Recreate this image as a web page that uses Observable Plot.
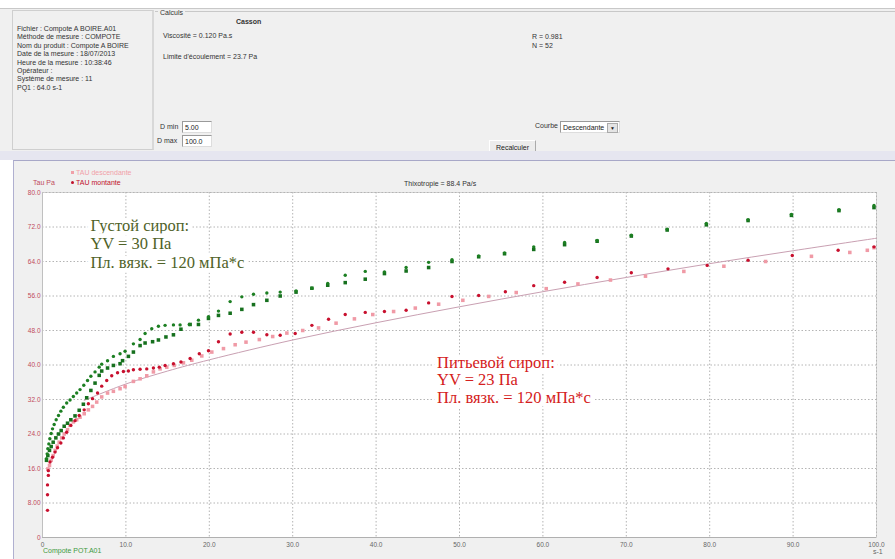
<!DOCTYPE html>
<html><head><meta charset="utf-8">
<script src="https://cdn.jsdelivr.net/npm/d3@7"></script>
<script src="https://cdn.jsdelivr.net/npm/@observablehq/plot@0.6"></script>
<style>
html,body{margin:0;padding:0;background:#fff;}
body{width:895px;height:559px;position:relative;overflow:hidden;font-family:"Liberation Sans",Arial,sans-serif;}
.t{position:absolute;font-size:7px;line-height:8px;color:#333;white-space:nowrap;}
#top{position:absolute;left:0;top:8px;width:895px;height:143px;background:#f0f0f0;border-top:1px solid #c8c8c8;}
#info{position:absolute;left:12px;top:10px;width:139px;height:138px;border:1px solid #cfcfcf;border-right:2px solid #d8d8d8;}
#calc{position:absolute;left:155px;top:11px;width:740px;height:1px;background:#c8c8c8;}
.inp{position:absolute;background:#fff;border:1px solid #9a9a9a;border-right-color:#ddd;border-bottom-color:#ddd;font-size:7px;line-height:11px;padding-left:2px;box-sizing:border-box;color:#222;}
#btn{position:absolute;left:489px;top:140px;width:47px;height:15px;background:#ececec;border:1px solid #aaa;border-top-color:#fff;border-left-color:#fff;box-sizing:border-box;font-size:7px;line-height:13px;text-align:center;color:#222;}
#band{position:absolute;left:0;top:151px;width:895px;height:9px;background:#e6e6f0;}
#panel{position:absolute;left:13px;top:160px;width:882px;height:399px;background:#f0f0f0;border-top:1px solid #a8a8c8;border-left:1px solid #b0b0d0;}
#chart{position:absolute;left:14px;top:161px;}
</style></head>
<body>
<div id="top"></div>
<div id="info"></div>
<div id="calc"></div>
<div class="t" style="left:158px;top:9px;background:#f0f0f0;padding:0 2px;">Calculs</div>
<div class="t" style="left:236px;top:18px;font-weight:bold;">Casson</div>
<div class="t" style="left:163px;top:32px;">Viscosité = 0.120 Pa.s</div>
<div class="t" style="left:163px;top:53px;">Limite d'écoulement = 23.7 Pa</div>
<div class="t" style="left:532px;top:33px;">R = 0.981</div>
<div class="t" style="left:532px;top:42px;">N = 52</div>
<div class="t" style="left:17px;top:25px;line-height:8.4px;">Fichier : Compote A BOIRE.A01<br>Méthode de mesure : COMPOTE<br>Nom du produit : Compote A BOIRE<br>Date de la mesure : 18/07/2013<br>Heure de la mesure : 10:38:46<br>Opérateur :<br>Système de mesure : 11<br>PQ1 : 64.0 s-1</div>
<div class="t" style="left:160px;top:123px;">D min</div>
<div class="inp" style="left:182px;top:121px;width:30px;height:12px;">5.00</div>
<div class="t" style="left:157px;top:137px;">D max</div>
<div class="inp" style="left:182px;top:135px;width:30px;height:12px;">100.0</div>
<div class="t" style="left:535px;top:122px;">Courbe :</div>
<div class="inp" style="left:560px;top:121px;width:60px;height:12px;">Descendante<span style="position:absolute;right:1px;top:1px;width:9px;height:8px;background:#e4e4e4;border:1px solid #aaa;font-size:5px;line-height:8px;text-align:center;">▼</span></div>
<div id="btn">Recalculer</div>
<div id="band"></div>
<div id="panel"></div>
<div id="chart"></div>
<div class="t" style="left:71px;top:169px;color:#f0a0a8;"><span style="display:inline-block;width:3px;height:3px;background:#f0a0a8;margin-right:2px;vertical-align:1px;"></span>TAU descendante</div>
<div class="t" style="left:71px;top:179px;color:#c0102a;"><span style="display:inline-block;width:3px;height:3px;border-radius:2px;background:#c0102a;margin-right:2px;vertical-align:1px;"></span>TAU montante</div>
<div class="t" style="left:33px;top:179px;color:#c04a5a;">Tau Pa</div>
<div class="t" style="left:404px;top:180px;color:#333;">Thixotropie = 88.4 Pa/s</div>
<div class="t" style="left:43px;top:547px;color:#3e9a3e;">Compote POT.A01</div>
<div class="t" style="left:873px;top:548px;color:#666;">s-1</div>
<script>
// Axis ticks and labels
const xTicks = [0, 10, 20, 30, 40, 50, 60, 70, 80, 90, 100];
const xTickLabels = ["0", "10.0", "20.0", "30.0", "40.0", "50.0", "60.0", "70.0", "80.0", "90.0", "100.0"];
const yTicks = [0, 8, 16, 24, 32, 40, 48, 56, 64, 72, 80];
const yTickLabels = ["0", "8.00", "16.0", "24.0", "32.0", "40.0", "48.0", "56.0", "64.0", "72.0", "80.0"];

// Питьевой сироп — TAU montante (shear rate s-1, Tau Pa)
const drinkUp = [[0.6,6.3],[0.6,9.9],[0.6,12.2],[0.7,14.4],[0.7,15.5],[0.9,17.5],[1.2,18.6],[1.5,19.8],[1.8,20.8],[2.2,21.9],[2.5,23.1],[2.9,24.4],[3.4,26.0],[3.9,27.1],[4.4,28.3],[5.0,29.6],[5.5,31.0],[6.0,32.2],[6.6,33.5],[7.1,35.1],[7.7,36.4],[8.3,37.5],[9.0,38.2],[9.7,38.5],[10.3,38.6],[10.9,38.9],[11.7,39.0],[12.5,39.1],[13.3,39.3],[14.0,39.5],[14.7,39.9],[15.7,40.3],[16.6,40.7],[17.7,41.5],[18.8,42.6],[19.9,43.3],[21.1,45.4],[22.5,47.2],[23.9,47.6],[25.3,47.6],[26.9,47.0],[28.5,46.9],[30.3,47.3],[32.3,49.2],[34.3,50.6],[36.3,51.7],[38.7,52.2],[41.0,52.4],[43.6,52.7],[46.3,54.4],[49.1,55.9],[52.3,56.1],[55.5,57.0],[58.9,58.4],[62.6,59.2],[66.5,60.3],[70.6,61.4],[75.0,62.3],[79.7,63.1],[84.6,64.3],[89.9,65.4],[95.4,66.6],[99.7,67.4]];
// Питьевой сироп — TAU descendante
const drinkDown = [[0.64,15.9],[0.84,16.7],[1.04,17.9],[1.28,19.0],[1.52,20.2],[1.76,21.2],[2.0,22.1],[2.3,23.1],[2.6,24.0],[3.0,25.0],[3.3,26.0],[3.7,26.8],[4.1,27.3],[4.5,27.9],[5.0,28.7],[5.5,29.6],[6.0,30.4],[6.5,31.4],[7.1,32.6],[7.8,33.5],[8.5,33.9],[9.3,34.5],[9.9,35.0],[10.9,36.2],[11.7,36.8],[12.5,37.5],[13.3,38.4],[14.1,39.1],[14.9,39.5],[15.8,39.9],[16.9,40.5],[17.9,41.1],[19.1,42.1],[20.3,43.0],[21.7,43.8],[23.1,44.7],[24.4,45.3],[26.0,45.9],[27.6,46.6],[29.3,47.4],[31.2,48.0],[33.1,48.6],[35.2,49.7],[37.4,50.7],[39.6,51.7],[42.1,52.4],[44.7,53.2],[47.5,54.1],[50.4,55.0],[53.5,55.9],[56.8,56.8],[60.4,57.7],[64.2,58.8],[68.1,59.7],[72.3,60.6],[76.9,61.7],[81.7,62.9],[86.7,64.0],[92.2,65.2],[96.8,66.1],[98.9,66.6],[99.7,67.2]];
// Густой сироп — montante
const thickUp = [[0.48,18.3],[0.56,19.4],[0.64,20.6],[0.76,21.7],[0.88,22.9],[1.04,24.1],[1.2,25.2],[1.4,26.2],[1.64,27.3],[1.92,28.3],[2.2,29.3],[2.5,30.2],[2.9,31.2],[3.3,31.9],[3.7,32.7],[4.1,33.5],[4.5,34.3],[4.95,35.3],[5.4,36.4],[5.8,37.4],[6.3,38.4],[6.8,39.5],[7.1,40.2],[7.8,41.0],[8.5,42.0],[9.3,42.6],[9.9,43.2],[10.9,44.9],[11.7,45.9],[12.3,47.3],[13.1,48.4],[13.9,49.0],[14.7,49.2],[15.7,49.3],[16.5,49.3],[17.6,49.4],[18.7,50.4],[19.9,51.2],[21.1,52.5],[22.5,54.7],[23.9,55.8],[25.3,56.4],[26.9,56.7],[28.5,56.9],[30.4,57.2],[32.3,57.8],[34.2,58.9],[36.3,60.8],[38.7,61.7],[41.0,61.6],[43.6,62.6],[46.3,63.8],[49.1,64.4],[52.3,65.3],[55.4,66.0],[58.9,67.4],[62.6,68.4],[66.5,68.9],[70.6,70.1],[74.9,71.5],[79.6,72.8],[84.6,73.7],[89.8,74.9],[95.5,76.0],[99.7,77.0]];
// Густой сироп — descendante
const thickDown = [[0.48,17.9],[0.64,19.0],[0.84,20.2],[1.04,21.1],[1.28,22.1],[1.6,23.1],[1.92,24.0],[2.24,24.8],[2.6,25.8],[3.0,26.5],[3.4,27.3],[3.9,28.2],[4.4,29.5],[4.9,30.9],[5.3,32.4],[5.8,34.1],[6.3,35.8],[6.8,37.6],[7.1,38.6],[7.8,39.3],[8.5,39.9],[9.3,40.3],[9.6,41.0],[10.3,42.0],[10.9,43.0],[11.7,44.5],[12.3,45.1],[13.2,45.4],[13.9,45.8],[14.8,46.5],[15.7,47.0],[16.6,48.3],[17.7,49.4],[18.7,49.4],[19.9,50.8],[21.1,51.5],[22.5,52.0],[23.9,52.9],[25.3,54.0],[26.9,55.0],[28.5,56.0],[30.4,56.9],[32.3,57.8],[34.2,58.5],[36.3,59.1],[38.7,59.9],[41.0,61.2],[43.6,61.8],[46.3,62.6],[49.1,64.0],[52.3,65.1],[55.4,65.8],[58.9,66.8],[62.6,67.9],[66.5,68.7],[70.6,69.9],[74.9,71.3],[79.6,72.5],[84.6,73.5],[89.8,74.7],[95.5,75.8],[99.7,76.5]];
// Casson fit curve
const fitX = [5, 10, 15, 20, 30, 40, 50, 60, 70, 80, 90, 100];
const fitY = [31.8, 35.6, 38.6, 41.2, 45.8, 49.8, 53.5, 57.0, 60.3, 63.5, 66.5, 69.4];

// Annotation text lines
const thickNote = ["Густой сироп:", "YV = 30 Па", "Пл. вязк. = 120 мПа*с"];
const thickNoteX = [5.75, 5.75, 5.75];
const thickNoteY = [71.0, 66.8, 62.6];
const drinkNote = ["Питьевой сироп:", "YV = 23 Па", "Пл. вязк. = 120 мПа*с"];
const drinkNoteX = [47.3, 47.3, 47.3];
const drinkNoteY = [39.4, 35.3, 31.1];

const fit = fitX.map((x, i) => ({x, y: fitY[i]}));
const notes = thickNote.map((t, i) => ({t, x: thickNoteX[i], y: thickNoteY[i], c: "#4f6228"}))
  .concat(drinkNote.map((t, i) => ({t, x: drinkNoteX[i], y: drinkNoteY[i], c: "#d42020"})));

const chart = Plot.plot({
  width: 881,
  height: 398,
  marginLeft: 28,
  marginRight: 19,
  marginTop: 31,
  marginBottom: 22,
  style: {background: "transparent", fontFamily: "Liberation Sans, Arial, sans-serif", fontSize: "6.5px", overflow: "visible"},
  x: {domain: [0, 100]},
  y: {domain: [0, 80]},
  marks: [
    Plot.frame({fill: "white", stroke: "#d4d4d4"}),
    Plot.gridX(xTicks, {stroke: "#b4b4b4", strokeOpacity: 1, strokeDasharray: "1.5,2"}),
    Plot.gridY(yTicks, {stroke: "#b4b4b4", strokeOpacity: 1, strokeDasharray: "1.5,2"}),
    Plot.axisX(xTicks, {tickFormat: (d, i) => xTickLabels[i], tickSize: 0, tickPadding: 5, fill: "#666", label: null}),
    Plot.axisY(yTicks, {tickFormat: (d, i) => yTickLabels[i], tickSize: 0, tickPadding: 2, fill: "#c04a5a", label: null}),
    Plot.ruleY([0], {stroke: "#b0b0b0"}),
    Plot.ruleX([0], {stroke: "#c0c0c0"}),
    Plot.text(notes, {x: "x", y: "y", text: "t", fill: "c", textAnchor: "start", lineAnchor: "bottom",
      fontFamily: "Liberation Serif, Times New Roman, serif", fontSize: 16.5, stroke: "white", strokeWidth: 9}),
    Plot.line(fit, {x: "x", y: "y", stroke: "#c9a0b2", strokeWidth: 1, curve: "catmull-rom"}),
    Plot.dot(drinkDown, {x: d => d[0], y: d => d[1], symbol: "square", r: 2, fill: "#f09aa6", stroke: "none"}),
    Plot.dot(drinkUp, {x: d => d[0], y: d => d[1], r: 1.7, fill: "#c8102e", stroke: "none"}),
    Plot.dot(thickDown, {x: d => d[0], y: d => d[1], symbol: "square", r: 2, fill: "#16701e", stroke: "none"}),
    Plot.dot(thickUp, {x: d => d[0], y: d => d[1], r: 1.7, fill: "#1c7f22", stroke: "none"})
  ]
});
document.getElementById("chart").appendChild(chart);
</script>
</body></html>
